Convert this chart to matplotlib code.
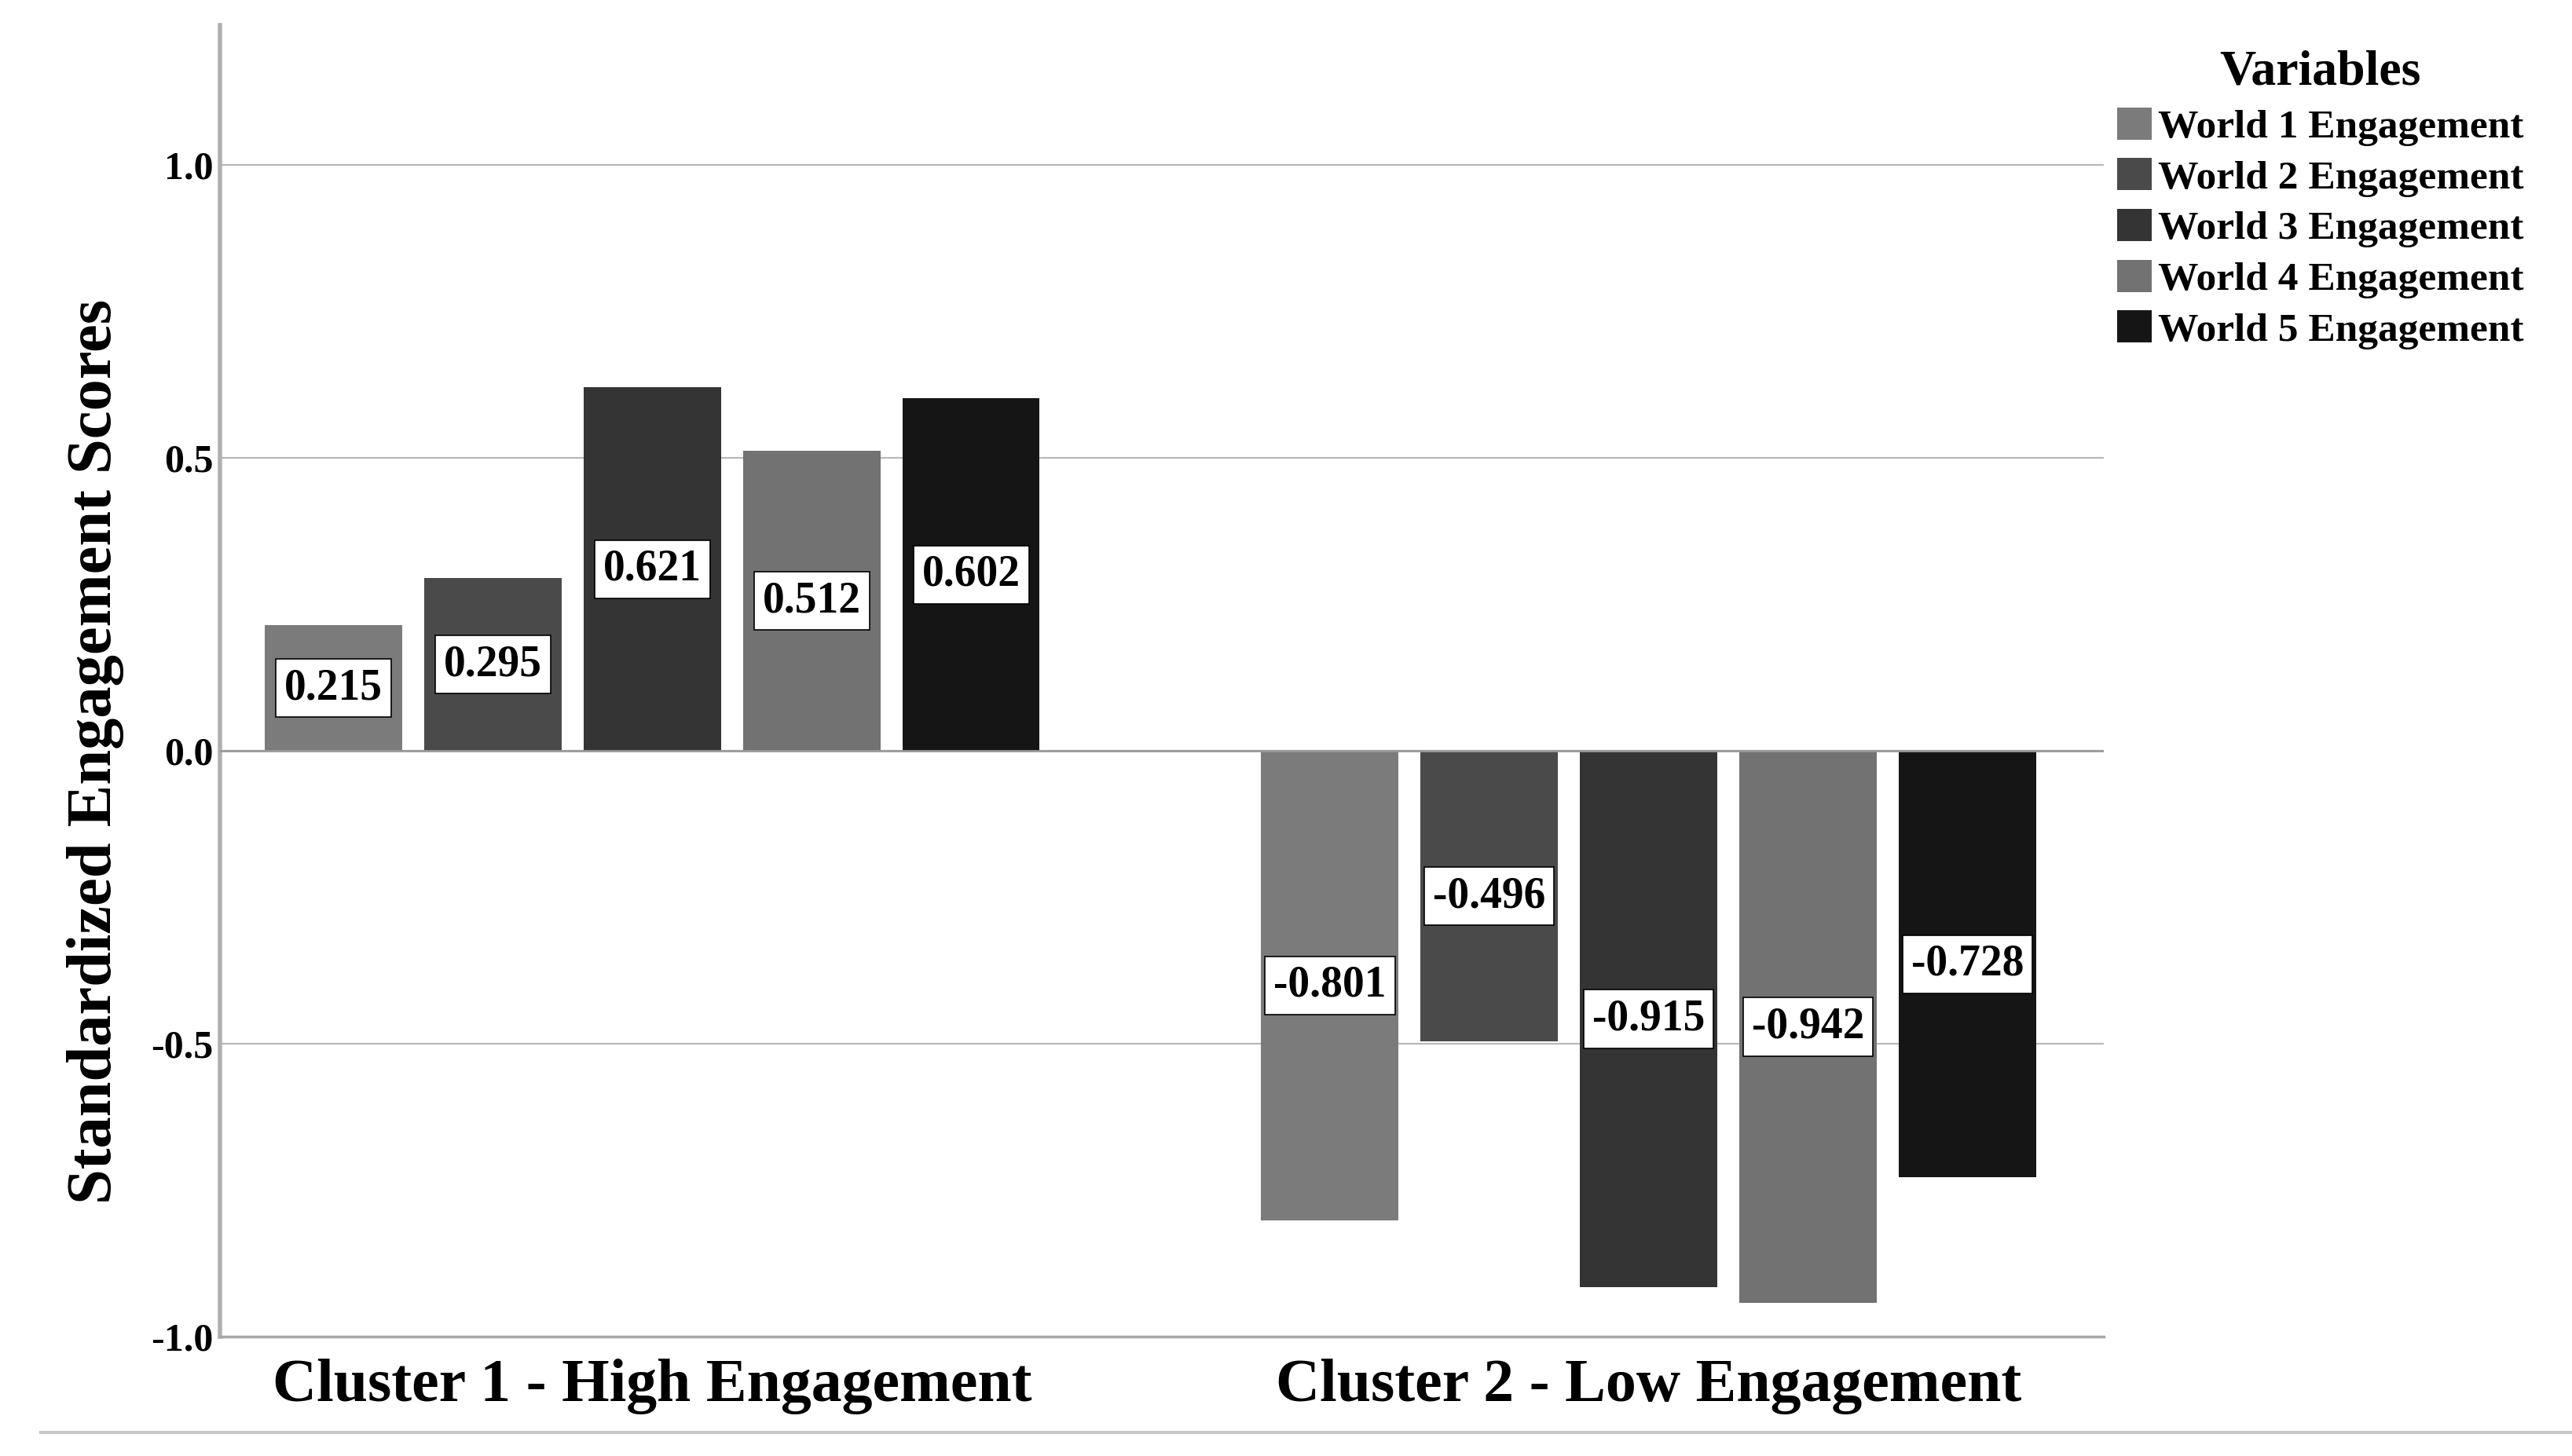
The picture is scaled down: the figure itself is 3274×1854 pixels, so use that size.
import numpy as np
import matplotlib
matplotlib.use("Agg")
import matplotlib.pyplot as plt
from matplotlib.lines import Line2D

# data
clusters = ["Cluster 1 - High Engagement", "Cluster 2 - Low Engagement"]
variables = ["World 1 Engagement", "World 2 Engagement", "World 3 Engagement",
             "World 4 Engagement", "World 5 Engagement"]
cluster1 = [0.215, 0.295, 0.621, 0.512, 0.602]
cluster2 = [-0.801, -0.496, -0.915, -0.942, -0.728]
colors = ["#7b7b7b", "#4a4a4a", "#343434", "#727272", "#151515"]

plt.rcParams['font.family'] = ['Liberation Serif', 'DejaVu Serif']
plt.rcParams['font.weight'] = 'bold'

fig = plt.figure(figsize=(32.74, 18.54), dpi=100)
ax = fig.add_axes([0.0855, 0.082, 0.7325, 0.901])

x = np.arange(len(clusters))
pitch = 0.16
width = 0.1376
for i, name in enumerate(variables):
    vals = [cluster1[i], cluster2[i]]
    pos = x + (i - 2) * pitch
    bars = ax.bar(pos, vals, width, color=colors[i], label=name, zorder=3)
    for b, v in zip(bars, vals):
        ax.text(b.get_x() + b.get_width() / 2, v / 2, f"{v:.3f}",
                ha='center', va='center', fontsize=40, fontweight='bold',
                zorder=5,
                bbox=dict(boxstyle='square,pad=0.2', fc='white', ec='black', lw=1.2))

ax.set_xlim(-0.434, 1.457)
ax.set_ylim(-1.0, 1.24)
ax.set_yticks([-1.0, -0.5, 0.0, 0.5, 1.0])
ax.set_yticklabels(["-1.0", "-0.5", "0.0", "0.5", "1.0"])
ax.set_xticks(x)
ax.set_xticklabels(clusters, fontsize=56, fontweight='bold')
ax.tick_params(axis='x', length=0, pad=20)
ax.tick_params(axis='y', length=0, pad=6, labelsize=36)

ax.grid(axis='y', color='#b8b8b8', lw=1.6, zorder=0)
ax.axhline(0, color='#9a9a9a', lw=2, zorder=4)
for s in ['top', 'right']:
    ax.spines[s].set_visible(False)
ax.spines['left'].set_color('#b0b0b0')
ax.spines['left'].set_linewidth(4)
ax.spines['bottom'].set_color('#a8a8a8')
ax.spines['bottom'].set_linewidth(2.5)

ax.set_ylabel("Standardized Engagement Scores", fontsize=58, fontweight='bold')
ax.yaxis.set_label_coords(-0.051, 0.446)

leg = fig.legend(loc='upper left', bbox_to_anchor=(0.817, 0.977), frameon=False,
                 title="Variables", fontsize=37, title_fontsize=46,
                 handlelength=0.85, handleheight=0.85, handletextpad=0.15,
                 labelspacing=0.3, borderaxespad=0)
leg.get_title().set_fontweight('bold')

fig.add_artist(Line2D([0.016, 1.0], [0.016, 0.016], color='#c8c8c8', lw=3))

fig.savefig("out.png", dpi=100, facecolor='white')
